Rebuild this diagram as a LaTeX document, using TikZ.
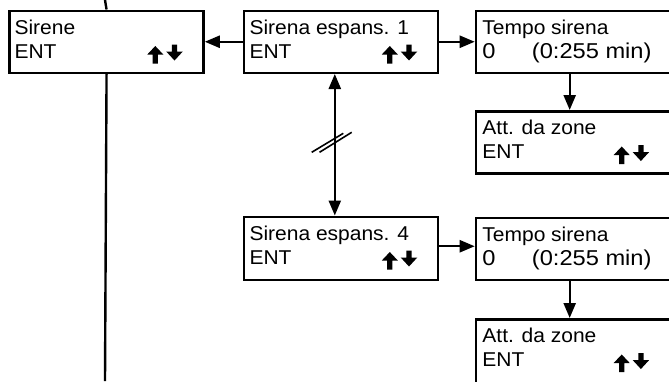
\documentclass[tikz,border=0pt]{standalone}
\usepackage{fontspec}
\usepackage{graphicx}
\setmainfont{Liberation Sans}
\usetikzlibrary{arrows.meta}

% slightly widened panel lettering
\newcommand\widetext[1]{\scalebox{1.05}[1]{#1}}
\newcommand\widedigits[1]{\scalebox{1.1}[1]{#1}}

\tikzset{
  panel/.style={draw, line width=2.5pt, rectangle, anchor=north west, inner sep=0pt,
                minimum width=194pt, minimum height=62pt},
  wide/.style={minimum width=260pt},
  row/.style={font=\fontsize{20}{24}\selectfont, anchor=base west, inner sep=0pt},
  numrow/.style={font=\fontsize{21.5}{24}\selectfont, anchor=base west, inner sep=0pt},
  plain/.style={line width=2.4pt},
  tip/.tip={Triangle[length=15pt,width=12pt]},
  flow/.style={line width=2.4pt, -tip},
  twoway/.style={line width=2.4pt, tip-tip},
  cut/.style={line width=1.6pt},
  % scroll symbol (up and down arrows) placed at a panel's north-west corner
  updown/.pic={
    \fill (139,45) -- (147,36.5) -- (155,45) -- (149.6,45) -- (149.6,54) -- (144.4,54) -- (144.4,45) -- cycle;
    \fill (163.6,35) -- (168.8,35) -- (168.8,42) -- (174.5,42) -- (166.2,51) -- (157.9,42) -- (163.6,42) -- cycle;
  }
}

\begin{document}
\begin{tikzpicture}[x=1pt, y=-1pt]
  \useasboundingbox (0,0) rectangle (669,381);
  \clip (0,0) rectangle (669,381);

  % panels
  \node[panel] (p1) at (8.3,9.5) {};
  \node[panel] (p2) at (242.8,9.5) {};
  \node[panel, wide] (p3) at (474.7,9.5) {};
  \node[panel, wide] (p4) at (474.7,110) {};
  \node[panel, minimum height=63pt] (p5) at (242.8,215.5) {};
  \node[panel, wide] (p6) at (474.7,216.5) {};
  \node[panel, wide, minimum height=90pt] (p7) at (474.7,318) {};

  % panel texts
  \node[row] at ([xshift=6pt,yshift=-24.5pt]p1.north west) {\widetext{Sirene}};
  \node[row] at ([xshift=6pt,yshift=-48.5pt]p1.north west) {\widetext{ENT}};
  \pic at (p1.north west) {updown};

  \node[row] at ([xshift=6.5pt,yshift=-24.5pt]p2.north west) {\widetext{Sirena espans. 1}};
  \node[row] at ([xshift=6.5pt,yshift=-48.5pt]p2.north west) {\widetext{ENT}};
  \pic at (p2.north west) {updown};

  \node[row] at ([xshift=7.5pt,yshift=-24.5pt]p3.north west) {\widetext{Tempo sirena}};
  \node[numrow] at ([xshift=7.5pt,yshift=-48.5pt]p3.north west) {\widedigits{0}};
  \node[numrow] at ([xshift=57pt,yshift=-48.5pt]p3.north west) {\widedigits{(0:255 min)}};

  \node[row] at ([xshift=7.5pt,yshift=-24.5pt]p4.north west) {\widetext{Att. da zone}};
  \node[row] at ([xshift=7.5pt,yshift=-48.5pt]p4.north west) {\widetext{ENT}};
  \pic at (p4.north west) {updown};

  \node[row] at ([xshift=6.5pt,yshift=-24.5pt]p5.north west) {\widetext{Sirena espans. 4}};
  \node[row] at ([xshift=6.5pt,yshift=-48.5pt]p5.north west) {\widetext{ENT}};
  \pic at (p5.north west) {updown};

  \node[row] at ([xshift=7.5pt,yshift=-24.5pt]p6.north west) {\widetext{Tempo sirena}};
  \node[numrow] at ([xshift=7.5pt,yshift=-48.5pt]p6.north west) {\widedigits{0}};
  \node[numrow] at ([xshift=57pt,yshift=-48.5pt]p6.north west) {\widedigits{(0:255 min)}};

  \node[row] at ([xshift=7.5pt,yshift=-24.5pt]p7.north west) {\widetext{Att. da zone}};
  \node[row] at ([xshift=7.5pt,yshift=-48.5pt]p7.north west) {\widetext{ENT}};
  \pic at (p7.north west) {updown};

  % main vertical line through the first panel
  \coordinate (vtop) at (105,0);
  \coordinate (vbot) at (105,381);
  \draw[plain] (vtop) -- (p1.north);
  \draw[plain] (p1.south) -- (vbot);

  % connectors
  \draw[flow] (p2.west) -- (p1.east);
  \draw[flow] (p2.east) -- (p3.west);
  \draw[flow] ([xshift=95pt]p3.south west) -- ([xshift=95pt]p4.north west);
  \draw[twoway] ([xshift=92pt]p2.south west) -- ([xshift=92pt]p5.north west);
  \coordinate (r2) at ([yshift=2pt]p5.east);
  \draw[flow] (r2) -- (r2 -| p6.west);
  \draw[flow] ([xshift=95pt]p6.south west) -- ([xshift=95pt]p7.north west);

  % break mark on the vertical link
  \draw[cut] (311.7,152.3) -- (343.3,133.3);
  \draw[cut] (319.5,152.3) -- (351.7,132.3);
\end{tikzpicture}
\end{document}
